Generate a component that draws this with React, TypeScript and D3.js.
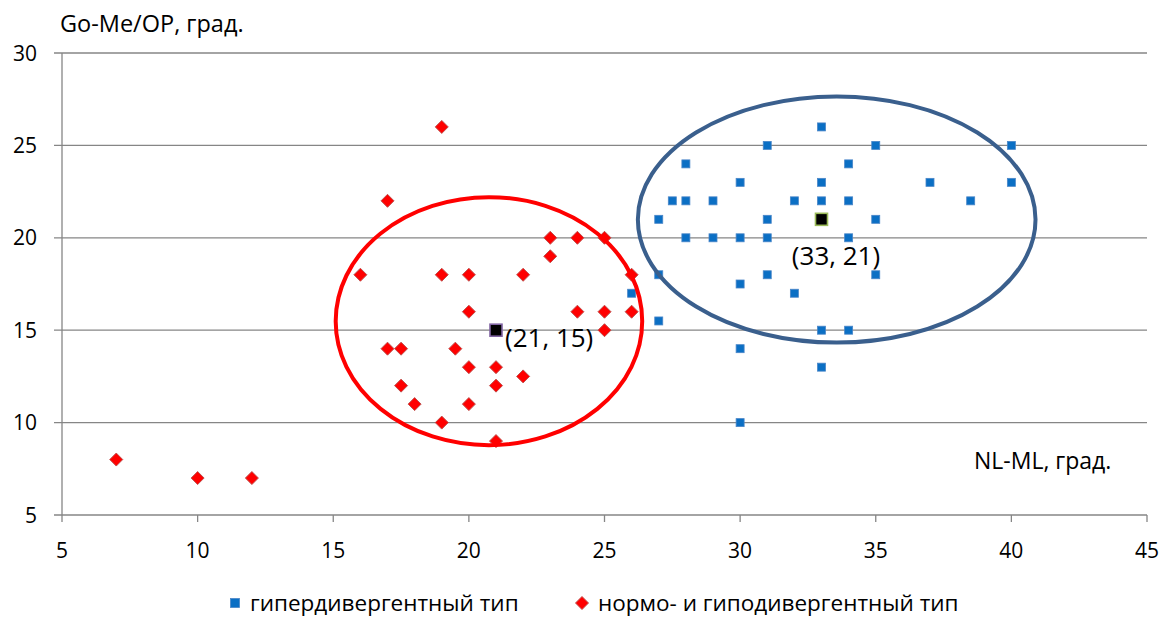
import React from "react";
import * as d3 from "d3";

// гипердивергентный тип
const hyperX = [33, 31, 35, 40, 28, 34, 30, 33, 37, 40, 27.5, 28, 29, 32, 33, 34, 38.5, 27, 31, 35, 28, 29, 30, 31, 34, 27, 31, 35, 26, 30, 32, 27, 33, 34, 30, 33, 30];
const hyperY = [26, 25, 25, 25, 24, 24, 23, 23, 23, 23, 22, 22, 22, 22, 22, 22, 22, 21, 21, 21, 20, 20, 20, 20, 20, 18, 18, 18, 17, 17.5, 17, 15.5, 15, 15, 14, 13, 10];

// нормо- и гиподивергентный тип
const normoX = [19, 17, 23, 24, 25, 23, 16, 19, 20, 22, 26, 20, 24, 25, 26, 25, 17, 17.5, 19.5, 20, 21, 22, 17.5, 21, 18, 20, 19, 21, 7, 10, 12];
const normoY = [26, 22, 20, 20, 20, 19, 18, 18, 18, 18, 18, 16, 16, 16, 16, 15, 14, 14, 14, 13, 13, 12.5, 12, 12, 11, 11, 10, 9, 8, 7, 7];

// group means
const meanX = [33, 21];
const meanY = [21, 15];
const meanLabels = ["(33, 21)", "(21, 15)"];

// ellipses around the groups (data units: cx, cy, rx, ry)
const ellipseCx = [33.56, 20.74];
const ellipseCy = [20.99, 15.49];
const ellipseRx = [7.33, 5.65];
const ellipseRy = [6.66, 6.71];

const xTicks = [5, 10, 15, 20, 25, 30, 35, 40, 45];
const yTicks = [5, 10, 15, 20, 25, 30];

const legendLabels = ["гипердивергентный тип", "нормо- и гиподивергентный тип"];

export default function App() {
  const width = 1170;
  const height = 619;
  const left = 62, right = 1147, top = 53, bottom = 515;
  const font = "'Open Sans', sans-serif";
  const grid = "#868686";

  const x = d3.scaleLinear().domain([5, 45]).range([left, right]);
  const y = d3.scaleLinear().domain([5, 30]).range([bottom, top]);

  const ellipseColors = ["#3a5f8d", "#ff0000"];
  const meanStroke = ["#9bbb59", "#8064a2"];
  const legY = 603;

  return (
    <svg width={width} height={height} style={{position: "absolute", left: 0, top: 0}} fontFamily={font}>
      <rect width={width} height={height} fill="#fff" />
      {yTicks.map((t) => (
        <g key={"y" + t}>
          <line x1={left - 8} x2={right} y1={y(t)} y2={y(t)} stroke={grid} strokeWidth={1.3} />
          <text x={37} y={y(t)} dy="0.36em" textAnchor="end" fontSize={21}>{t}</text>
        </g>
      ))}
      <line x1={left} x2={left} y1={top} y2={bottom} stroke={grid} strokeWidth={1.3} />
      {xTicks.map((t) => (
        <g key={"x" + t}>
          <line x1={x(t)} x2={x(t)} y1={bottom} y2={bottom + 7} stroke={grid} strokeWidth={1.3} />
          <text x={x(t)} y={558} textAnchor="middle" fontSize={21}>{t}</text>
        </g>
      ))}

      <text x={60} y={32} fontSize={23.5}>Go-Me/OP, град.</text>
      <text x={974} y={469} fontSize={23}>NL-ML, град.</text>

      {hyperX.map((v, i) => (
        <rect key={"h" + i} x={x(v) - 4} y={y(hyperY[i]) - 4} width={8} height={8}
          fill="#0b6fc4" stroke="#4a86c8" strokeWidth={0.8} />
      ))}
      {normoX.map((v, i) => {
        const cx = x(v), cy = y(normoY[i]);
        return (
          <path key={"n" + i} d={`M${cx},${cy - 6.5}L${cx + 6.5},${cy}L${cx},${cy + 6.5}L${cx - 6.5},${cy}Z`}
            fill="#ff0000" stroke="#c0504d" strokeWidth={1} />
        );
      })}

      {ellipseCx.map((c, i) => (
        <ellipse key={"e" + i} cx={x(c)} cy={y(ellipseCy[i])}
          rx={x(c + ellipseRx[i]) - x(c)} ry={y(ellipseCy[i] - ellipseRy[i]) - y(ellipseCy[i])}
          fill="none" stroke={ellipseColors[i]} strokeWidth={4} />
      ))}

      {meanX.map((v, i) => (
        <rect key={"m" + i} x={x(v) - 6} y={y(meanY[i]) - 6} width={12} height={12}
          fill="#000" stroke={meanStroke[i]} strokeWidth={1.6} />
      ))}
      <text x={x(meanX[0]) + 14.5} y={y(meanY[0]) + 46} textAnchor="middle" fontSize={26}>{meanLabels[0]}</text>
      <text x={x(meanX[1]) + 9} y={y(meanY[1]) + 17} fontSize={26}>{meanLabels[1]}</text>

      <g>
        <rect x={230.5} y={legY - 4.5} width={9} height={9} fill="#0b6fc4" stroke="#4a86c8" strokeWidth={0.8} />
        <text x={250} y={legY} dy="0.36em" fontSize={22.5}>{legendLabels[0]}</text>
        <path d={`M582,${legY - 6.5}L588.5,${legY}L582,${legY + 6.5}L575.5,${legY}Z`} fill="#ff0000" stroke="#c0504d" strokeWidth={1} />
        <text x={598} y={legY} dy="0.36em" fontSize={22.5}>{legendLabels[1]}</text>
      </g>
    </svg>
  );
}
